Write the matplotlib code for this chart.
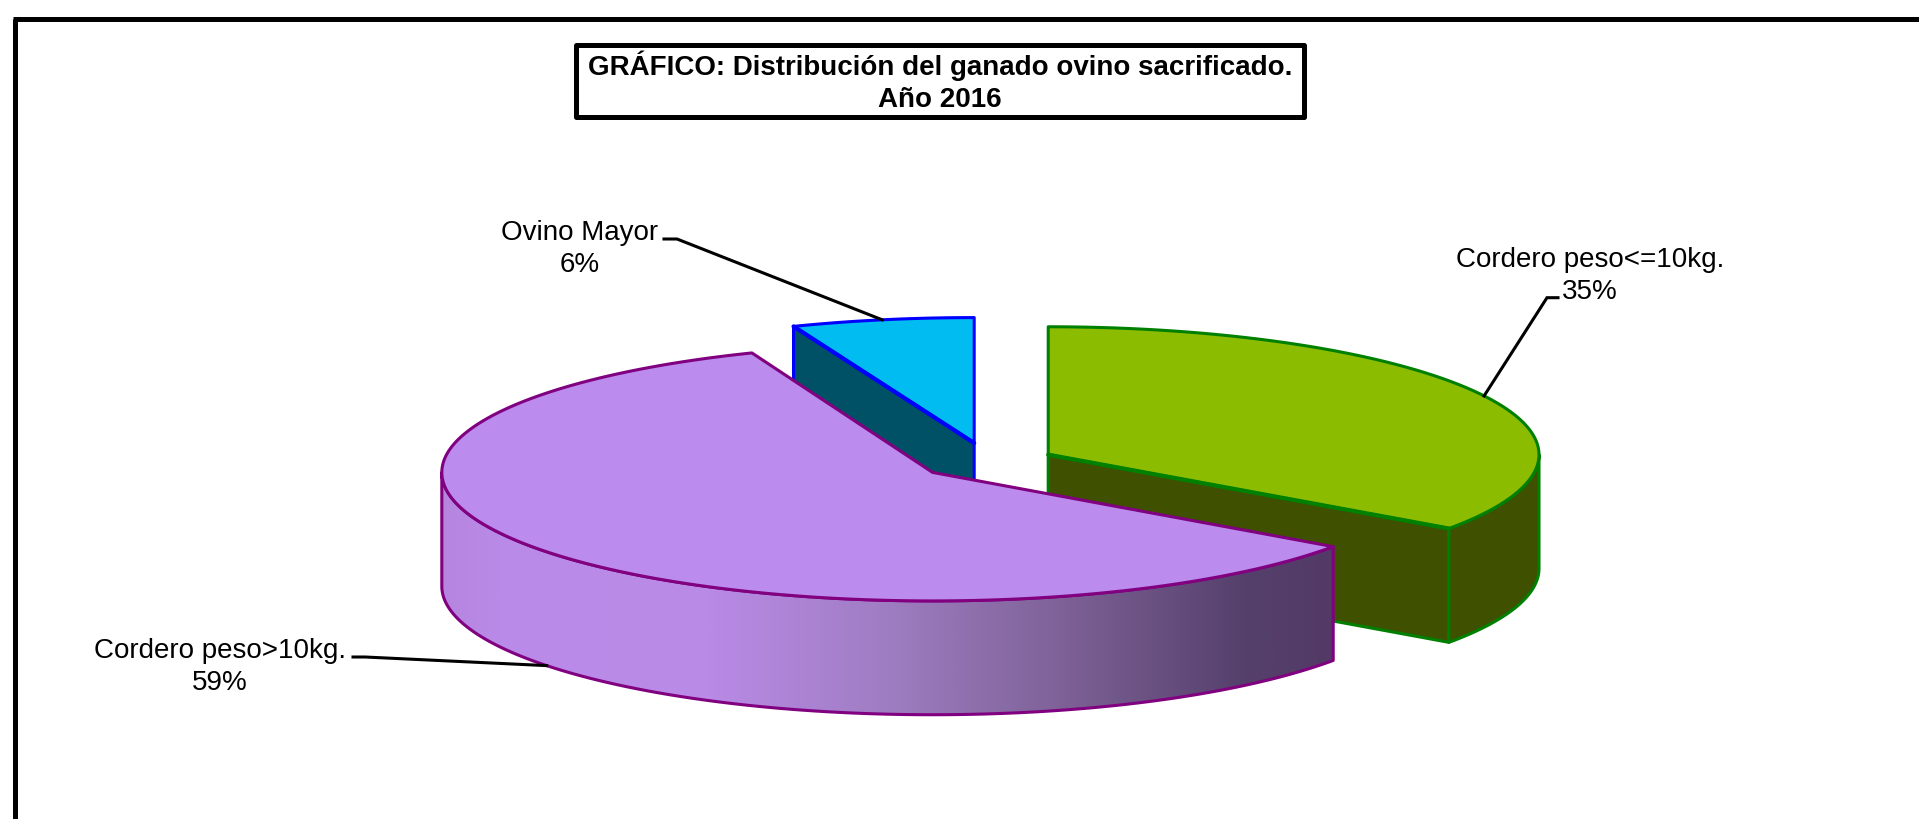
import numpy as np
import matplotlib
matplotlib.use("Agg")
import matplotlib.pyplot as plt
from matplotlib.patches import Polygon, Rectangle
from matplotlib.colors import LinearSegmentedColormap

categories = ["Cordero peso<=10kg.", "Cordero peso>10kg.", "Ovino Mayor"]
shares = [34.8, 59.2, 6.0]
top_colors = ["#8CBC00", "#BB8BEE", "#00BCF0"]
side_colors = ["#3F5000", "#BB8BEE", "#005066"]
edge_colors = ["#008000", "#800080", "#0000FF"]
title_lines = ["GRÁFICO: Distribución del ganado ovino sacrificado.", "Año 2016"]

plt.rcParams["font.family"] = ["Liberation Sans", "DejaVu Sans"]
fig = plt.figure(figsize=(19.19, 8.19), dpi=100, facecolor="white")
ax = fig.add_axes([0, 0, 1, 1])
ax.set_xlim(0, 1919); ax.set_ylim(819, 0); ax.axis("off")

S = 1919 / 1568
RX, DEPTH = 401 * S, 93 * S
RYS = [104.5 * S, 105 * S, 102.5 * S]
# exploded centres of the top faces
centres = [(856.5 * S, 371.5 * S), (762 * S, 386 * S), (796 * S, 362 * S)]

edges = np.cumsum([0] + shares) / sum(shares) * 360.0


def pt(i, a):
    c = centres[i]
    r = np.radians(a)
    return np.array([c[0] + RX * np.sin(r), c[1] - RYS[i] * np.cos(r)])


def arc(i, a0, a1):
    t = np.linspace(a0, a1, 240)
    r = np.radians(t)
    c = centres[i]
    return np.column_stack([c[0] + RX * np.sin(r), c[1] - RYS[i] * np.cos(r)])


def outer_side(i, a0, a1):
    a = arc(i, a0, a1)
    low = a + [0, DEPTH]
    return np.vstack([a, low[::-1]])


def cut_face(i, a):
    c = centres[i]
    p = pt(i, a)
    return np.array([c, p, p + [0, DEPTH], np.array(c) + [0, DEPTH]])


def wedge(i, a0, a1):
    return np.vstack([[centres[i]], arc(i, a0, a1)])


LW = 2.2
JOIN = "round"
# back slice: Ovino Mayor
i = 2
c, a0, a1 = centres[i], edges[i], edges[i + 1]
ax.add_patch(Polygon(cut_face(i, a0), closed=True, fc=side_colors[i], ec=edge_colors[i], lw=LW, joinstyle=JOIN, zorder=2))
ax.add_patch(Polygon(wedge(i, a0, a1), closed=True, fc=top_colors[i], ec=edge_colors[i], lw=LW, joinstyle=JOIN, zorder=3))
ax.plot([pt(i, a0)[0], c[0]], [pt(i, a0)[1], c[1]], color=edge_colors[i], lw=3.0, solid_capstyle="round", zorder=3.1)

# right slice: Cordero <= 10 kg
i = 0
c, a0, a1 = centres[i], edges[i], edges[i + 1]
ax.plot([c[0], c[0]], [c[1], c[1] + DEPTH], color=edge_colors[i], lw=LW, zorder=3)
ax.add_patch(Polygon(cut_face(i, a1), closed=True, fc=side_colors[i], ec=edge_colors[i], lw=LW, joinstyle=JOIN, zorder=4))
ax.add_patch(Polygon(outer_side(i, 90, a1), closed=True, fc=side_colors[i], ec=edge_colors[i], lw=LW, joinstyle=JOIN, zorder=4))
ax.add_patch(Polygon(wedge(i, a0, a1), closed=True, fc=top_colors[i], ec=edge_colors[i], lw=LW, joinstyle=JOIN, zorder=5))
ax.plot([c[0], pt(i, a1)[0]], [c[1], pt(i, a1)[1]], color=edge_colors[i], lw=3.0, solid_capstyle="round", zorder=5.1)

# front slice: Cordero > 10 kg, with shaded rim
i = 1
c, a0, a1 = centres[i], edges[i], edges[i + 1]
rim = Polygon(outer_side(i, a0, 270), closed=True, fc="none", ec=edge_colors[i], lw=LW, joinstyle=JOIN, zorder=7)
shade = LinearSegmentedColormap.from_list(
    "rim",
    [(0.0, "#B585DF"), (0.06, "#BA8AE8"), (0.30, "#B98AE6"), (0.50, "#9F7DC2"),
     (0.70, "#7D6196"), (0.90, "#55406C"), (1.0, "#533A66")])
left, right = c[0] - RX, pt(i, a0)[0]
im = ax.imshow(np.linspace(0, 1, 512)[None, :], cmap=shade, aspect="auto",
               extent=(left, right, 800, 300), zorder=6)
clip = Polygon(outer_side(i, a0, 270), closed=True, fc="none", ec="none", transform=ax.transData)
ax.add_patch(clip)
im.set_clip_path(clip)
ax.set_xlim(0, 1919); ax.set_ylim(819, 0)
ax.add_patch(rim)
ax.add_patch(Polygon(wedge(i, a0, a1), closed=True, fc=top_colors[i], ec=edge_colors[i], lw=LW, joinstyle=JOIN, zorder=8))

# labels with leader lines, anchored at each slice's mid angle
mids = (edges[:-1] + edges[1:]) / 2
anchors = [pt(0, mids[0]), pt(1, mids[1]) + [0, DEPTH], pt(2, mids[2])]
text_pos = [(1590, 267, 299.3), (220, 657.7, 690), (580, 240, 272.5)]
elbows = [(1547, 1558, 297.7), (365, 353, 657), (677, 664, 239)]
for k in range(3):
    x1, x2, y = elbows[k]
    ax.plot([anchors[k][0], x1, x2], [anchors[k][1], y, y], color="black", lw=2.2, zorder=9,
            solid_joinstyle="miter")
    tx, b1, b2 = text_pos[k]
    ax.text(tx, b1, categories[k], ha="center", va="baseline", fontsize=20, color="black", zorder=10)
    ax.text(tx, b2, f"{round(shares[k])}%", ha="center", va="baseline", fontsize=20, color="black", zorder=10)

# title box
ax.add_patch(Rectangle((575.5, 44.5), 728, 72, fc="white", ec="black", lw=3.6, joinstyle="round", zorder=11))
ax.text(940, 75, title_lines[0], ha="center", va="baseline", fontsize=20, fontweight="bold", zorder=12)
ax.text(940, 107, title_lines[1], ha="center", va="baseline", fontsize=20, fontweight="bold", zorder=12)

# outer frame
ax.plot([14.5, 14.5], [819, 18.5], color="black", lw=3.6, solid_capstyle="butt", zorder=12)
ax.plot([12.5, 1919], [18.5, 18.5], color="black", lw=3.6, solid_capstyle="butt", zorder=12)

fig.savefig("out.png", dpi=100, facecolor="white")
